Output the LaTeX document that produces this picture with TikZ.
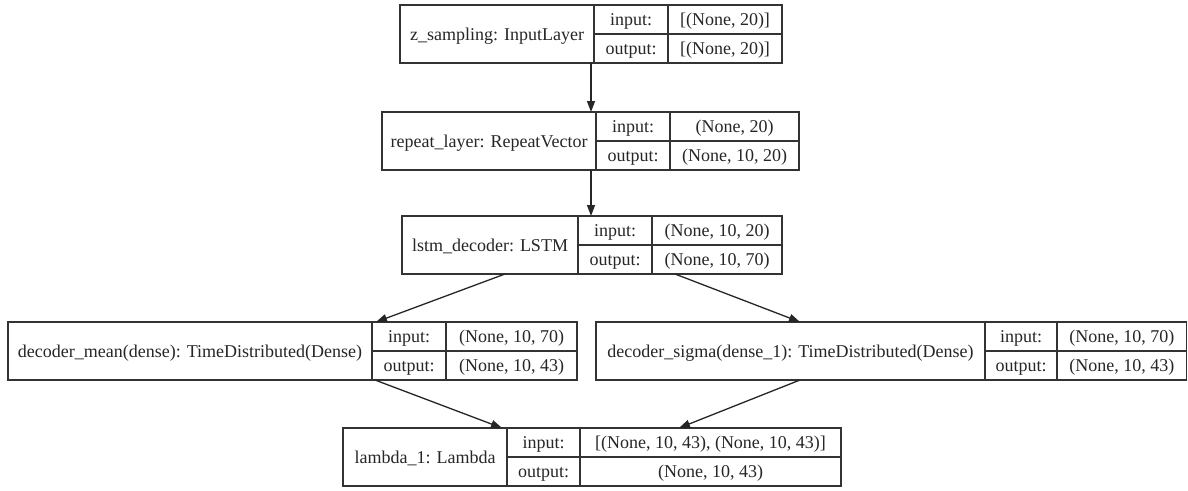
\documentclass[tikz,border=0pt]{standalone}
\usepackage{fontspec}
\setmainfont{Liberation Serif}
\usetikzlibrary{arrows.meta}

% One record: layer name | input:/output: keys | input/output shapes
% #1 name, #2 left, #3 key column, #4 value column, #5 right, #6 top,
% #7 layer text, #8 input shape, #9 output shape
\newcommand\recbox[9]{%
  \node[cell, anchor=north west, minimum width={(#5-#2)*1pt}, minimum height=58pt] (#1) at (#2,-#6) {};
  \node[cell, anchor=north west, minimum width={(#3-#2)*1pt}, minimum height=58pt] (#1-l) at (#2,-#6) {#7};
  \node[cell, anchor=north west, minimum width={(#4-#3)*1pt}, minimum height=29pt] (#1-ki) at (#3,-#6) {input:};
  \node[cell, anchor=north west, minimum width={(#4-#3)*1pt}, minimum height=29pt] (#1-ko) at (#3,-#6-29) {output:};
  \node[cell, anchor=north west, minimum width={(#5-#4)*1pt}, minimum height=29pt] (#1-vi) at (#4,-#6) {#8};
  \node[cell, anchor=north west, minimum width={(#5-#4)*1pt}, minimum height=29pt] (#1-vo) at (#4,-#6-29) {#9};
}

\begin{document}
\begin{tikzpicture}[x=1pt, y=1pt,
  cell/.style={draw=black!80, line width=1.3pt, inner sep=0pt, outer sep=0pt,
    text=black!85, font=\fontsize{18pt}{21pt}\selectfont, text height=12pt, text depth=0pt, align=center},
  arr/.style={draw=black!85, line width=1.3pt, -{Triangle[length=11pt, width=8pt]}}]
  \useasboundingbox[fill=white] (0,0) rectangle (1188,-490);

  \recbox{b1}{400}{594}{668}{782}{5}{z\_sampling: InputLayer}{[(None, 20)]}{[(None, 20)]}
  \recbox{b2}{382}{596}{670}{799}{112}{repeat\_layer: RepeatVector}{(None, 20)}{(None, 10, 20)}
  \recbox{b3}{402}{578}{652}{782}{216}{lstm\_decoder: LSTM}{(None, 10, 20)}{(None, 10, 70)}
  \recbox{b4}{8}{372}{446}{577}{322}{decoder\_mean(dense): TimeDistributed(Dense)}{(None, 10, 70)}{(None, 10, 43)}
  \recbox{b5}{596}{985}{1057}{1186.5}{322}{decoder\_sigma(dense\_1): TimeDistributed(Dense)}{(None, 10, 70)}{(None, 10, 43)}
  \recbox{b6}{343}{507}{580}{841}{428}{lambda\_1: Lambda}{[(None, 10, 43), (None, 10, 43)]}{(None, 10, 43)}

  \draw[arr] ([xshift=191pt]b1.south west) -- ([xshift=209pt]b2.north west);
  \draw[arr] ([xshift=209pt]b2.south west) -- ([xshift=189pt]b3.north west);
  \draw[arr] ([xshift=103pt]b3.south west) -- ([xshift=368pt]b4.north west);
  \draw[arr] ([xshift=273pt]b3.south west) -- ([xshift=204pt]b5.north west);
  \draw[arr] ([xshift=367pt]b4.south west) -- ([xshift=159pt]b6.north west);
  \draw[arr] ([xshift=204pt]b5.south west) -- ([xshift=336pt]b6.north west);
\end{tikzpicture}
\end{document}
